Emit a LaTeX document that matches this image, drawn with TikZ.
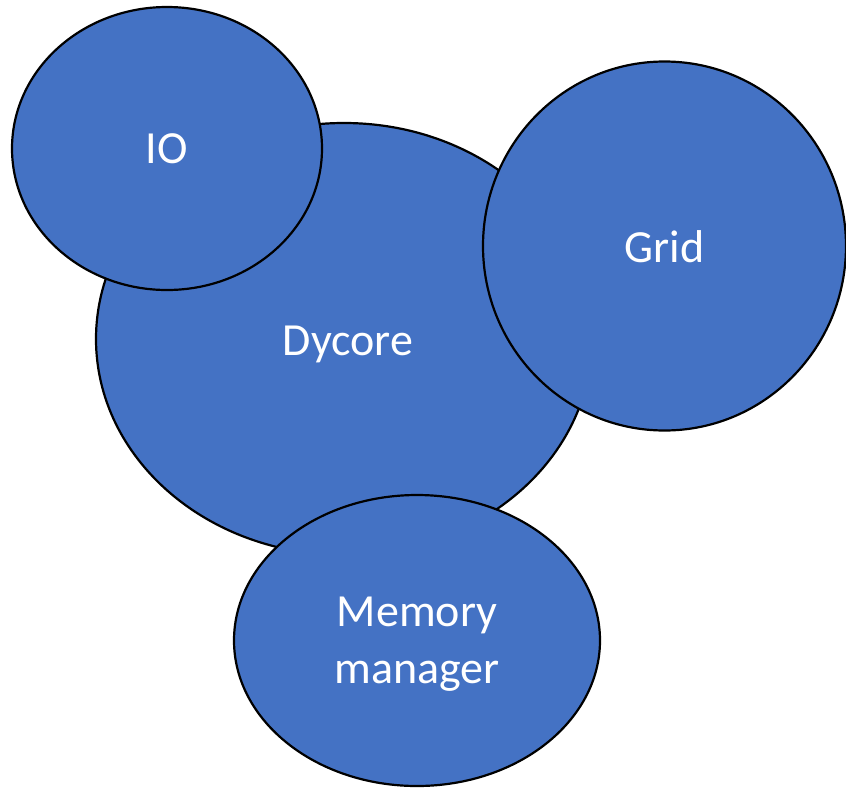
\documentclass[tikz,border=0pt]{standalone}
\usepackage{fontspec}
\setmainfont{Carlito}
\usetikzlibrary{shapes.geometric}
\definecolor{blobblue}{HTML}{4472C4}
\tikzset{
  blob/.style={ellipse, draw=black, line width=2.2pt, fill=blobblue,
    inner sep=0pt},
  bloblabel/.style={text=white, inner sep=0pt, align=center,
    font=\fontsize{46}{57}\selectfont}
}
\begin{document}
\begin{tikzpicture}[x=1pt, y=-1pt]
  \useasboundingbox (0,0) rectangle (846,788);
  % main dynamical core, drawn first so the others overlap it
  \node[blob, minimum width=496pt, minimum height=432pt] (dycore) at (344,339) {};
  \node[bloblabel, xshift=4pt, yshift=-5pt] (dycoretext) at (dycore.center) {Dycore};
  \node[blob, minimum width=310pt, minimum height=283pt] (io) at (167,148.5) {};
  \node[bloblabel] (iotext) at (io.center) {IO};
  \node[blob, minimum width=363pt, minimum height=369pt] (grid) at (664.5,246) {};
  \node[bloblabel, yshift=-1pt] (gridtext) at (grid.center) {Grid};
  \node[blob, minimum width=366pt, minimum height=291pt] (mem) at (417,640.5) {};
  \node[bloblabel, yshift=-4pt] (memtext) at (mem.center) {Memory\\manager};
\end{tikzpicture}
\end{document}
